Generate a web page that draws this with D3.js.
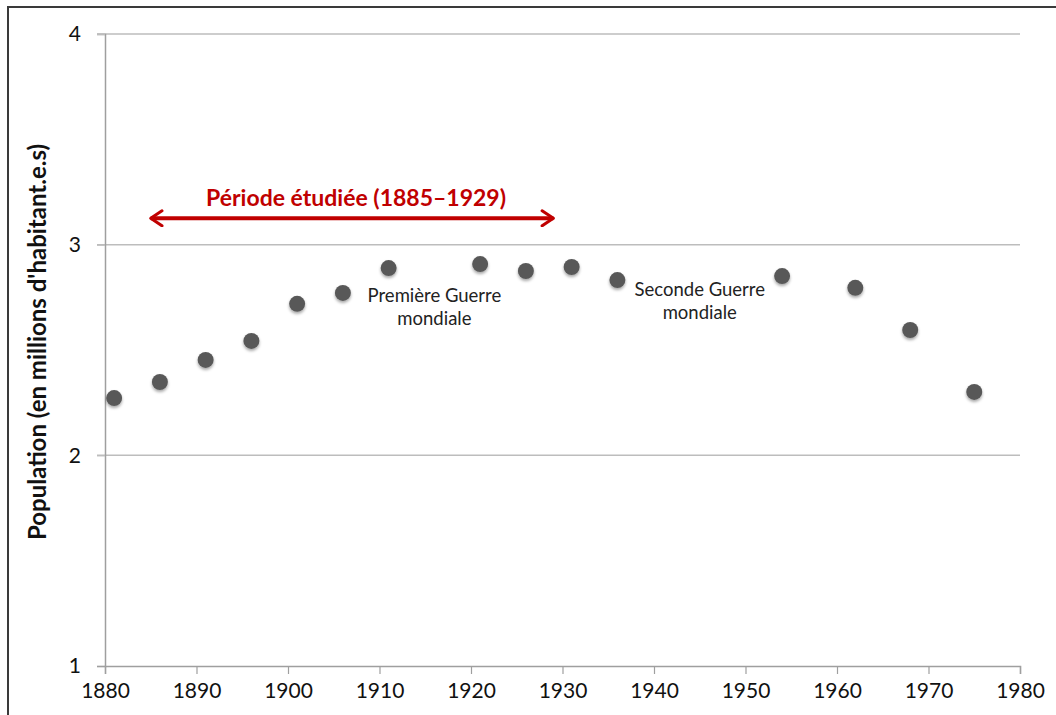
<!DOCTYPE html>
<html>
<head>
<meta charset="utf-8">
<script src="https://cdn.jsdelivr.net/npm/d3@7"></script>
<style>
  body { margin: 0; background: #fff; }
  svg { display: block; font-family: Lato, "Open Sans", sans-serif; }
</style>
</head>
<body>
<script>
// population data (millions)
const years = [1881, 1886, 1891, 1896, 1901, 1906, 1911, 1921, 1926, 1931, 1936, 1954, 1962, 1968, 1975];
const population = [2.272, 2.348, 2.453, 2.543, 2.719, 2.771, 2.889, 2.908, 2.875, 2.894, 2.832, 2.851, 2.795, 2.595, 2.301];
const xTicks = [1880, 1890, 1900, 1910, 1920, 1930, 1940, 1950, 1960, 1970, 1980];
const yTicks = [1, 2, 3, 4];
const periodStart = 1885, periodEnd = 1929, periodLevel = 3.125;
const periodLabel = 'Période étudiée (1885–1929)';
const wars = [
  { x: 1916, y: 2.73, lines: ['Première Guerre', 'mondiale'] },
  { x: 1945, y: 2.755, lines: ['Seconde Guerre', 'mondiale'] }
];

const width = 1056, height = 715;
const margin = { top: 34, left: 105, right: 36, bottom: 49 };
const svg = d3.select('body').append('svg').attr('width', width).attr('height', height);

// chart frame
svg.append('rect')
  .attr('x', 8).attr('y', 7).attr('width', 1060).attr('height', 720)
  .attr('fill', 'none').attr('stroke', '#3a3a3a').attr('stroke-width', 2);

const x = d3.scaleLinear().domain([1880, 1980]).range([margin.left, width - margin.right]);
const y = d3.scaleLinear().domain([1, 4]).range([height - margin.bottom, margin.top]);

// horizontal gridlines
svg.append('g').selectAll('line')
  .data(yTicks.filter(d => d > 1))
  .enter().append('line')
    .attr('x1', margin.left - 8).attr('x2', x(1980))
    .attr('y1', d => y(d)).attr('y2', d => y(d))
    .attr('stroke', '#bdbdbd').attr('stroke-width', 1.5);

const yAxis = d3.axisLeft(y).tickValues(yTicks).tickSize(8).tickPadding(16).tickFormat(d3.format('d'));
const xAxis = d3.axisBottom(x).tickValues(xTicks).tickSize(8).tickPadding(9).tickFormat(d3.format('d'));

const gy = svg.append('g').attr('transform', `translate(${margin.left},0)`).call(yAxis);
const gx = svg.append('g').attr('transform', `translate(0,${y(1)})`).call(xAxis);
[gx, gy].forEach((g) => {
  g.select('.domain').attr('stroke', '#9f9f9f').attr('stroke-width', 1.5);
  g.selectAll('.tick line').attr('stroke', '#9f9f9f').attr('stroke-width', 1.2);
  g.selectAll('.tick text').attr('fill', '#111').style('font-size', '21px').style('font-family', 'Lato, sans-serif');
});
gy.selectAll('.tick').filter(d => d > 1).select('line').attr('stroke', '#bdbdbd');

// y axis title
svg.append('text')
  .attr('text-anchor', 'middle')
  .attr('transform', `translate(46, ${(y(1) + y(4)) / 2 - 8}) rotate(-90)`)
  .style('font-size', '24px').style('font-weight', 'bold').attr('fill', '#111')
  .text("Population (en millions d'habitant.e.s)");

// drop shadow for points
const defs = svg.append('defs');
const f = defs.append('filter').attr('id', 'shadow').attr('x', '-50%').attr('y', '-50%').attr('width', '200%').attr('height', '200%');
f.append('feDropShadow').attr('dx', 0).attr('dy', 2).attr('stdDeviation', 1.5).attr('flood-color', '#000').attr('flood-opacity', 0.35);

// arrow marker
['start', 'end'].forEach((k) => {
  defs.append('marker')
    .attr('id', `arrow-${k}`)
    .attr('viewBox', '0 0 12 12').attr('refX', 10).attr('refY', 6)
    .attr('markerWidth', 4.5).attr('markerHeight', 4.5)
    .attr('markerUnits', 'strokeWidth')
    .attr('orient', k === 'start' ? 'auto-start-reverse' : 'auto')
    .append('path')
      .attr('d', 'M2.5,1 L10,6 L2.5,11')
      .attr('fill', 'none').attr('stroke', '#c00000').attr('stroke-width', 2)
      .attr('stroke-linecap', 'round').attr('stroke-linejoin', 'round');
});

svg.append('line')
  .attr('x1', x(periodStart)).attr('x2', x(periodEnd))
  .attr('y1', y(periodLevel)).attr('y2', y(periodLevel))
  .attr('stroke', '#c00000').attr('stroke-width', 4)
  .attr('marker-start', 'url(#arrow-start)').attr('marker-end', 'url(#arrow-end)');

svg.append('text')
  .attr('x', (x(periodStart) + x(periodEnd)) / 2 + 4)
  .attr('y', y(periodLevel) - 12)
  .attr('text-anchor', 'middle')
  .style('font-size', '23px').style('font-weight', 'bold').attr('fill', '#c00000')
  .text(periodLabel);

// war annotations
wars.forEach((w) => {
  const t = svg.append('text')
    .attr('text-anchor', 'middle')
    .attr('x', x(w.x)).attr('y', y(w.y))
    .style('font-size', '18.5px').attr('fill', '#222');
  w.lines.forEach((l, i) => {
    t.append('tspan').attr('x', x(w.x)).attr('dy', i === 0 ? 0 : 23).text(l);
  });
});

// points
svg.append('g').selectAll('circle')
  .data(years.map((yr, i) => [yr, population[i]]))
  .enter().append('circle')
    .attr('cx', d => x(d[0]))
    .attr('cy', d => y(d[1]))
    .attr('r', 8)
    .attr('fill', '#595959')
    .attr('filter', 'url(#shadow)');
</script>
</body>
</html>
